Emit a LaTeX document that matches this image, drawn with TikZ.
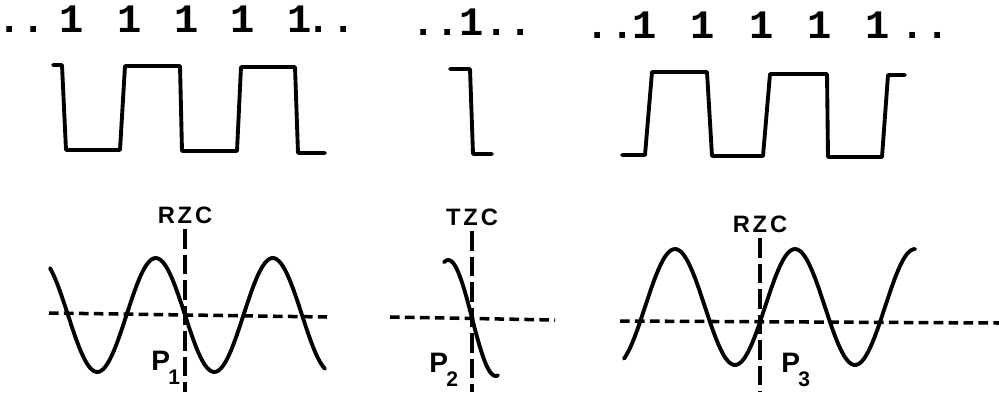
\documentclass[tikz,border=0pt]{standalone}
\usepackage{fontspec}
\setmainfont{Liberation Sans}
\newfontfamily\bitfont{Liberation Mono}
\newfontfamily\tagfont{Liberation Sans}[LetterSpace=12]
\usetikzlibrary{positioning}
\newcommand\pidx[1]{\kern-1pt\raisebox{-8pt}{\fontsize{12}{12}\selectfont #1}}

\begin{document}
\begin{tikzpicture}[x=0.02cm, y=-0.02cm,
  bit/.style={font=\bitfont\bfseries\fontsize{23}{23}\selectfont, inner sep=0pt, anchor=base},
  tag/.style={font=\tagfont\bfseries\fontsize{13.5}{13.5}\selectfont, anchor=base},
  pin/.style={font=\bfseries\fontsize{16}{16}\selectfont, anchor=base west, inner sep=0pt},
  wave/.style={line width=2.2pt, line join=round, line cap=round},
  hdash/.style={line width=2pt, dash pattern=on 5.5pt off 3pt},
  vdash/.style={line width=2pt, dash pattern=on 11pt off 3.5pt}
]
\useasboundingbox (0,0) rectangle (999,392);

% bit patterns
\node[bit] (lead1) at (22,32) {..};
\foreach \x [count=\i] in {72,130,187,243,300}
  \node[bit] (one1-\i) at (\x,32) {1};
\node[bit] (tail1) at (331,32) {..};

\node[bit] (bits2) at (472,35) {..1..};

\node[bit] (lead3) at (610,38) {..};
\foreach \x [count=\i] in {645,703,762,820,878}
  \node[bit] (one3-\i) at (\x,38) {1};
\node[bit] (tail3) at (925,38) {..};

% square waves
\draw[wave] (53,65) -- (62,65) -- (66,150) -- (120,150) -- (125,66) -- (180,66)
  -- (182,151) -- (237,151) -- (241,67) -- (295,67) -- (298,153) -- (325,153);
\draw[wave] (450,69) -- (470,69) -- (473,154) -- (492,154);
\draw[wave] (622,155) -- (645,155) -- (652,72) -- (707,72) -- (712,156) -- (763,156)
  -- (770,74) -- (827,74) -- (828,157) -- (882,157) -- (888,75) -- (905,75);

% receiver zero crossing
\node[tag] (rzc1) at (185,223) {RZC};
\coordinate (foot1) at (185,392);
\draw[vdash] (rzc1.south) -- (foot1);
\coordinate (ax1-w) at (49,313);
\coordinate (ax1-e) at (327,317);
\draw[hdash] (ax1-w) -- (ax1-e);
\draw[wave] plot[domain=50:325, samples=120, smooth] (\x, {315+57*sin((\x-185)/117*360)});
\node[pin] (p1) at (151,370) {P\pidx{1}};

% transmitter zero crossing
\node[tag] (tzc) at (472,225) {TZC};
\coordinate (foot2) at (472,392);
\draw[vdash] (tzc.south) -- (foot2);
\coordinate (ax2-w) at (390,317);
\coordinate (ax2-e) at (555,320);
\draw[hdash] (ax2-w) -- (ax2-e);
\draw[wave] plot[domain=444:498, samples=40, smooth] (\x, {318+58*sin((\x-472)/95*360)});
\node[pin] (p2) at (429,372) {P\pidx{2}};

% receiver zero crossing, shifted
\node[tag] (rzc3) at (760,232) {RZC};
\coordinate (foot3) at (760,392);
\draw[vdash] (rzc3.south) -- (foot3);
\coordinate (ax3-w) at (620,321);
\coordinate (ax3-e) at (999,323);
\draw[hdash] (ax3-w) -- (ax3-e);
\draw[wave] plot[domain=624:915, samples=120, smooth] (\x, {307-58*sin((\x-765)/120*360)});
\node[pin] (p3) at (781,372) {P\pidx{3}};

\end{tikzpicture}
\end{document}
